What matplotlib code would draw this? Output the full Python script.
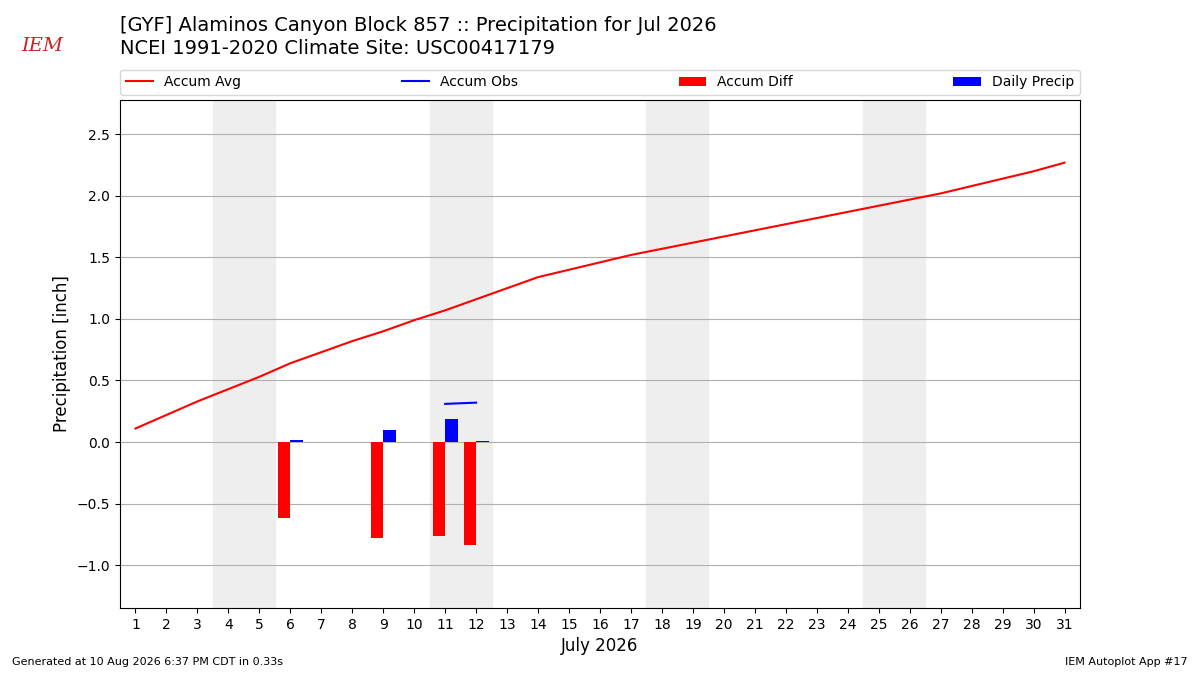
import matplotlib
matplotlib.use("Agg")
import matplotlib.pyplot as plt

days = list(range(1, 32))
accum_avg = [0.11, 0.22, 0.33, 0.43, 0.53, 0.64, 0.73, 0.82, 0.90, 0.99, 1.07,
             1.16, 1.25, 1.34, 1.40, 1.46, 1.52, 1.57, 1.62, 1.67, 1.72, 1.77,
             1.82, 1.87, 1.92, 1.97, 2.02, 2.08, 2.14, 2.20, 2.27]
obs_days = [11, 12]
accum_obs = [0.31, 0.32]
diff_days = [6, 9, 11, 12]
accum_diff = [-0.62, -0.78, -0.76, -0.84]
precip_days = [6, 9, 11, 12]
daily_precip = [0.02, 0.10, 0.19, 0.005]
weekends = [(3.5, 5.5), (10.5, 12.5), (17.5, 19.5), (24.5, 26.5)]

fig = plt.figure(figsize=(12, 6.75), dpi=100)
ax = fig.add_axes([0.1, 0.099, 0.8, 0.753])

for a, b in weekends:
    ax.axvspan(a, b, color="#eeeeee", zorder=0)

ax.plot(days, accum_avg, color="r", lw=1.5, label="Accum Avg", zorder=3)
ax.plot(obs_days, accum_obs, color="b", lw=1.5, label="Accum Obs", zorder=3)
ax.bar([d - 0.4 for d in diff_days], accum_diff, width=0.4, align="edge",
       color="r", label="Accum Diff", zorder=2)
ax.bar(precip_days, daily_precip, width=0.4, align="edge", color="b",
       label="Daily Precip", zorder=2)

ax.set_xlim(0.5, 31.5)
ax.set_ylim(-1.35, 2.78)
ax.set_xticks(days)
ax.set_yticks([-1.0, -0.5, 0.0, 0.5, 1.0, 1.5, 2.0, 2.5])
ax.yaxis.grid(True, color="#b0b0b0", lw=0.8)
ax.set_axisbelow(True)
ax.tick_params(labelsize=10)
ax.set_xlabel("July 2026", fontsize=12)
ax.set_ylabel("Precipitation [inch]", fontsize=12)

ax.legend(loc="lower left", bbox_to_anchor=(0, 1.01, 1, 0.05), ncol=4,
          mode="expand", fontsize=10, borderaxespad=0)

fig.text(0.1, 0.962, "[GYF] Alaminos Canyon Block 857 :: Precipitation for Jul 2026",
         fontsize=14, va="center")
fig.text(0.1, 0.928, "NCEI 1991-2020 Climate Site: USC00417179",
         fontsize=14, va="center")
fig.text(0.018, 0.932, "IEM", color="#cc2222", fontsize=14, style="italic",
         family="DejaVu Serif", va="center")
fig.text(0.01, 0.015, "Generated at 10 Aug 2026 6:37 PM CDT in 0.33s", fontsize=8)
fig.text(0.99, 0.015, "IEM Autoplot App #17", fontsize=8, ha="right")

fig.savefig("out.png")
